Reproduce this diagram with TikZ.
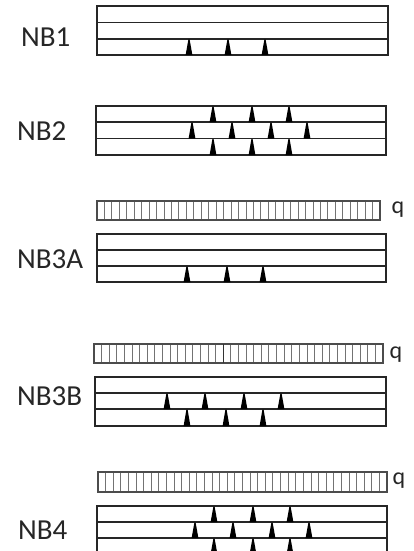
\documentclass[tikz,border=0pt]{standalone}
\usepackage{fontspec}
\setmainfont{Carlito}
\begin{document}
\begin{tikzpicture}[x=1pt,y=-1pt,
  beamline/.style={draw=black!85,line width=1.3pt},
  hatchline/.style={draw=black!55,line width=0.9pt},
  barbox/.style={draw=black!70,line width=1.1pt},
  support/.style={fill=black},
  lbl/.style={font=\fontsize{29}{30}\selectfont,inner sep=0pt,anchor=west,text=black!85},
  qlbl/.style={font=\fontsize{24}{26}\selectfont,inner sep=0pt,text=black!85}]
\useasboundingbox (0,0) rectangle (414,551);
% beam with three strips: x1 x2 y0 y1 y2 y3
\newcommand{\mybeam}[6]{%
  \draw[beamline] (#1,#3) rectangle (#2,#6);
  \draw[beamline] (#1,#4) -- (#2,#4);
  \draw[beamline] (#1,#5) -- (#2,#5);}
% supports: ybottom ytop list
\newcommand{\mysupports}[3]{%
  \foreach \xx in {#3} {\fill[support] (\xx-3.4,#1) -- (\xx-0.6,#2) -- (\xx+0.6,#2) -- (\xx+3.4,#1) -- cycle;}}
% load bar: x1 x2 ytop ybot
\newcommand{\myload}[4]{%
  \pgfmathsetmacro{\dx}{(#2-#1)/38}
  \foreach \i in {1,...,37} {\draw[hatchline] (#1+\i*\dx,#3) -- (#1+\i*\dx,#4);}
  \draw[barbox] (#1,#3) rectangle (#2,#4);}

% NB1
\node[lbl] (nb1) at (21,37) {NB1};
\mybeam{97}{388}{6}{22.5}{39}{55}
\mysupports{55}{39.5}{189,228,265}

% NB2
\node[lbl] (nb2) at (17,131) {NB2};
\mybeam{96}{386}{106}{122}{138.5}{155}
\mysupports{122}{106.5}{213,252,289}
\mysupports{138.5}{122.5}{192,232,271,307}
\mysupports{155}{139}{213,252,289}

% NB3A
\myload{97}{380}{201}{220}
\node[qlbl] (q1) at (398,210) {q};
\node[lbl] (nb3a) at (17,259) {NB3A};
\mybeam{97}{386}{234}{250}{266}{282}
\mysupports{282}{266.5}{187,227,263}

% NB3B
\myload{94}{383}{344}{363}
\draw[black!80,line width=1.1pt] (94+17*289/38,344) -- (94+17*289/38,363);
\node[qlbl] (q2) at (396,355) {q};
\node[lbl] (nb3b) at (17,396) {NB3B};
\mybeam{95}{386}{377}{393}{409}{426}
\mysupports{409}{393.5}{167,205,244,281}
\mysupports{426}{409.5}{187,226,263}

% NB4
\myload{98}{387}{472}{492}
\node[qlbl] (q3) at (399,481) {q};
\node[lbl] (nb4) at (18,530) {NB4};
\mybeam{97}{387}{506}{522}{538}{554}
\mysupports{522}{506.5}{214,253,290}
\mysupports{538}{522.5}{195,233,272,309}
\mysupports{554}{538.5}{214,253,290}
\end{tikzpicture}
\end{document}
